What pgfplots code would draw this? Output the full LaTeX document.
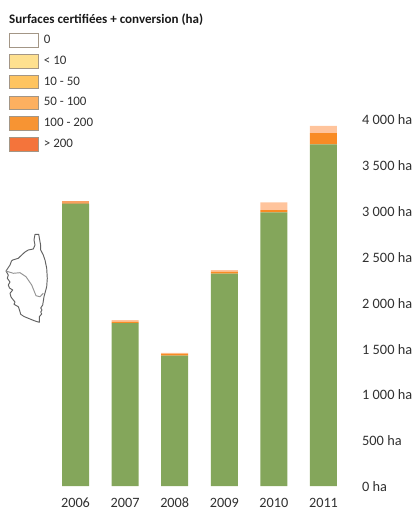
\documentclass[border=0pt]{standalone}
\usepackage{pgfplots}
\pgfplotsset{compat=1.18}
\usepackage{fontspec}
\setmainfont{Carlito}
\definecolor{cgreen}{HTML}{84A65B}
\definecolor{corange}{HTML}{F98B24}
\definecolor{clight}{HTML}{FFC49C}
\definecolor{cmid}{HTML}{F8A060}
\definecolor{ctext}{HTML}{303030}
\definecolor{cedge}{HTML}{A39686}
\definecolor{la}{HTML}{FEE08F}
\definecolor{lb}{HTML}{FEC460}
\definecolor{lc}{HTML}{FDB060}
\definecolor{ld}{HTML}{F79433}
\definecolor{le}{HTML}{F4743B}
\begin{document}
\begin{tikzpicture}
\useasboundingbox (0,0) rectangle (414bp,509bp);
\begin{axis}[
  at={(50.7bp,23bp)}, anchor=south west,
  scale only axis, width=297.6bp, height=367bp,
  xmin=-0.5, xmax=5.5, ymin=0, ymax=4000,
  ybar stacked, bar width=27bp,
  axis line style={draw=none}, major tick length=0pt,
  xtick={0,1,2,3,4,5},
  xticklabels={2006,2007,2008,2009,2010,2011},
  ytick={0,500,1000,1500,2000,2500,3000,3500,4000},
  yticklabels={0 ha,500 ha,1 000 ha,1 500 ha,2 000 ha,2 500 ha,3 000 ha,3 500 ha,4 000 ha},
  yticklabel pos=right,
  yticklabel style={anchor=west, inner sep=0pt, xshift=13.7bp, yshift=-0.8bp, font=\fontsize{14.4}{14.4}\selectfont, text=ctext},
  xticklabel style={anchor=center, inner sep=0pt, yshift=-16.6bp, font=\fontsize{14.3}{14.3}\selectfont, text=ctext},
  clip=false,
]
\addplot[fill=cgreen, draw=none] coordinates {(0,3077) (1,1776) (2,1420) (3,2314) (4,2983) (5,3724)};
\addplot[fill=cmid, draw=none] coordinates {(0,29) (1,0) (2,0) (3,0) (4,0) (5,0)};
\addplot[fill=corange, draw=none] coordinates {(0,0) (1,15) (2,22) (3,22) (4,25) (5,123)};
\addplot[fill=clight, draw=none] coordinates {(0,0) (1,18) (2,8) (3,18) (4,84) (5,77)};
\end{axis}
\begin{axis}[
  at={(0bp,0bp)}, anchor=south west,
  scale only axis, width=414bp, height=509bp,
  xmin=0, xmax=414, ymin=0, ymax=509, y dir=reverse,
  hide axis, clip=false,
]
\addplot[color=black!62, line width=0.95pt, line join=round] coordinates {
 (35,234.3) (38.7,234.3) (39.7,240) (40.7,245.7) (40.7,250) (43.3,255) (45,260) (46.7,268.3) (47.3,278.3) (46.7,286.7) (44,296.7) (42.7,305) (40.7,308) (42,310) (40.7,312) (41.7,314) (39.3,316.7) (39.3,322.3) (35,321) (28.3,318.3) (24,316.5) (20.7,314.3) (19.5,310) (18.3,306.7) (14,304.3) (15,302) (13.3,300) (11,297) (10,293.3) (12.7,290) (9.5,288) (8.3,285) (10,282) (7.3,278.3) (8.3,275) (6,271) (8,268) (10,265) (11.5,261) (12.7,260) (18.3,258.3) (21.7,255) (25,252) (28.3,250) (33.3,249) (35,245) (34,240) (35,234.3)};
\addplot[color=black!42, line width=0.95pt, line join=round] coordinates {
 (6,271) (13.3,273.3) (20,272.7) (26,276.7) (31.7,285) (36,295.7) (40,296.7) (43.3,293.3)};
\end{axis}
\begin{axis}[
  at={(0bp,0bp)}, anchor=south west,
  scale only axis, width=414bp, height=509bp,
  xmin=0, xmax=414, ymin=0, ymax=509,
  hide axis, clip=false,
  legend style={at={(axis cs:9.3,475.7)}, anchor=north west, draw=none, fill=none, inner sep=0pt, outer sep=0pt,
    row sep=6.4bp, column sep=0pt,
    font=\fontsize{13}{13}\selectfont,
    nodes={inner sep=0pt, text=ctext, text height=9bp, text depth=3bp}},
  legend cell align=left,
  legend image code/.code={\draw[#1, draw=cedge, line width=0.8pt] (0bp,-6.8bp) rectangle (28.8bp,6.8bp);},
]
\addlegendimage{fill=white}
\addlegendentry{\hspace{5bp}0}
\addlegendimage{fill=la}
\addlegendentry{\hspace{5bp}< 10}
\addlegendimage{fill=lb}
\addlegendentry{\hspace{5bp}10 - 50}
\addlegendimage{fill=lc}
\addlegendentry{\hspace{5bp}50 - 100}
\addlegendimage{fill=ld}
\addlegendentry{\hspace{5bp}100 - 200}
\addlegendimage{fill=le}
\addlegendentry{\hspace{5bp}> 200}
\end{axis}
\node[anchor=west, inner sep=0pt, text=black!90, font=\fontsize{13.1}{13.1}\selectfont\bfseries] at (9bp,489.5bp) {Surfaces certifiées + conversion (ha)};
\end{tikzpicture}
\end{document}
